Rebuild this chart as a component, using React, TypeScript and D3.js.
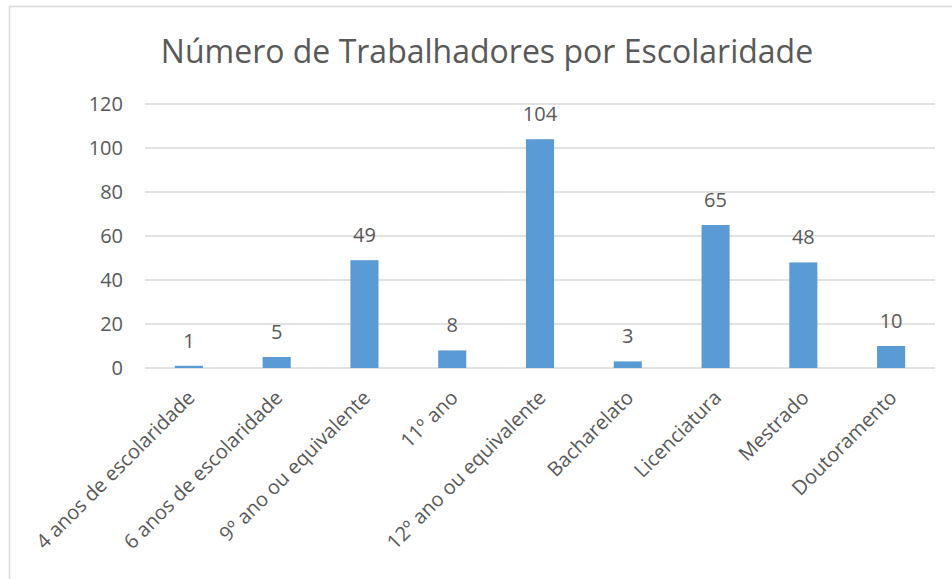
import React from "react";
import * as d3 from "d3";

const categories = [
  "4 anos de escolaridade",
  "6 anos de escolaridade",
  "9º ano ou equivalente",
  "11º ano",
  "12º ano ou equivalente",
  "Bacharelato",
  "Licenciatura",
  "Mestrado",
  "Doutoramento",
];
const values = [1, 5, 49, 8, 104, 3, 65, 48, 10];
const yTicks = [0, 20, 40, 60, 80, 100, 120];
const title = "Número de Trabalhadores por Escolaridade";

const W = 952;
const H = 579;
const FONT = "'Open Sans', sans-serif";
const TEXT = "#595959";

export default function App() {
  const x = d3.scaleBand<string>().domain(categories).range([145, 935]).paddingInner(0.68).paddingOuter(0.34);
  const y = d3.scaleLinear().domain([0, 120]).range([368, 104]);
  return (
    <div style={{ position: "absolute", left: 0, top: 0, width: W, height: H, background: "#fff" }}>
      <svg width={W} height={H} style={{ display: "block" }}>
        <rect x={9.5} y={6.5} width={1000} height={1000} fill="#fff" stroke="#D9D9D9" strokeWidth={1.5} />
        <text x={487} y={63} textAnchor="middle" fontFamily={FONT} fontSize={32} fill={TEXT}>
          {title}
        </text>
        {yTicks.map((t) => (
          <g key={t}>
            <line x1={145} x2={935} y1={y(t)} y2={y(t)} stroke="#D9D9D9" strokeWidth={1.5} />
            <text x={123} y={y(t)} dy="0.36em" textAnchor="end" fontFamily={FONT} fontSize={20} fill={TEXT}>
              {t}
            </text>
          </g>
        ))}
        {categories.map((c, i) => {
          const bx = x(c)!;
          const bw = x.bandwidth();
          const cx = bx + bw / 2;
          return (
            <g key={c}>
              <rect x={bx} y={y(values[i])} width={bw} height={y(0) - y(values[i])} fill="#5B9BD5" />
              <text x={cx} y={y(values[i]) - 18} textAnchor="middle" fontFamily={FONT} fontSize={20} fill={TEXT}>
                {values[i]}
              </text>
              <text
                transform={`translate(${cx + 2},${394}) rotate(-45)`}
                textAnchor="end"
                dy="0.35em"
                fontFamily={FONT}
                fontSize={20}
                fill={TEXT}
              >
                {c}
              </text>
            </g>
          );
        })}
      </svg>
    </div>
  );
}
